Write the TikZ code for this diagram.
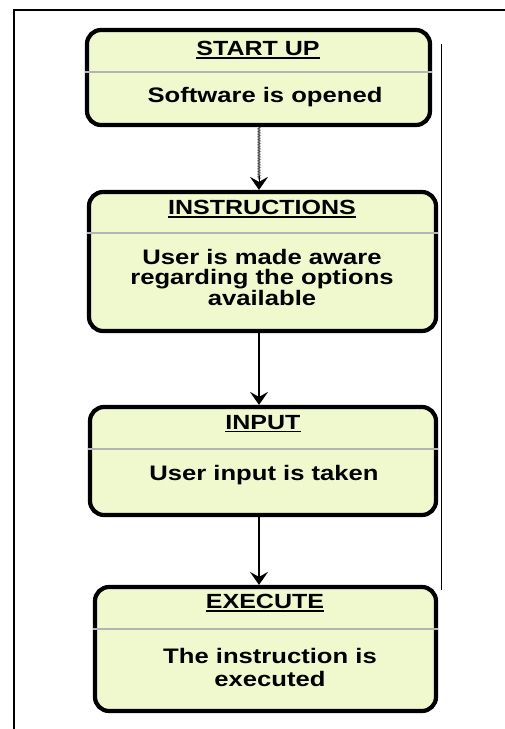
\documentclass[tikz,border=0pt]{standalone}
\usepackage{fontspec}
\setmainfont{Liberation Sans}
\newfontfamily\boxfont[FakeStretch=1.22]{Liberation Sans}
\usetikzlibrary{arrows.meta,decorations.pathmorphing}

\definecolor{boxfill}{HTML}{F0F8CE}
\definecolor{splitgray}{HTML}{B4B4B4}

% title with a heavier underline than \underline gives
\newcommand\titleline[1]{\setbox0\hbox{#1}\rlap{\rule[-2.8pt]{\wd0}{1.5pt}}\box0}

\tikzset{
  stagebox/.style={draw=black, line width=4.2pt, rounded corners=14pt,
    fill=boxfill, inner sep=0pt, outer sep=2.1pt},
  stagetitle/.style={font=\boxfont\bfseries\fontsize{20.5}{21}\selectfont, inner sep=0pt},
  stagebody/.style={font=\boxfont\bfseries\fontsize{21}{20.5}\selectfont,
    align=center, inner sep=0pt},
  splitline/.style={draw=splitgray, line width=1.5pt},
  flow/.style={draw=black, line width=1.2pt,
    -{Stealth[length=13pt,width=18pt,inset=5pt]}},
  roughflow/.style={draw=black!75, line width=0.6pt,
    decorate, decoration={zigzag, amplitude=1pt, segment length=1.6pt}},
  frameline/.style={draw=black, line width=2pt},
}

\begin{document}
\begin{tikzpicture}[x=1pt, y=-1pt]
\useasboundingbox (0,0) rectangle (505,729);

% page frame
\draw[frameline] (14,729) -- (14,10) -- (505,10);
\draw[draw=black, line width=1pt] (441,44) -- (441,590);

% stage boxes
\node[stagebox, minimum width=343pt, minimum height=95pt] (b1) at (258.5,77.5) {};
\node[stagebox, minimum width=347pt, minimum height=139pt] (b2) at (262.5,261.5) {};
\node[stagebox, minimum width=346pt, minimum height=108pt] (b3) at (263,461) {};
\node[stagebox, minimum width=341pt, minimum height=124pt] (b4) at (265.5,649) {};

% title / body dividers
\coordinate (d1) at (0,72);
\coordinate (d2) at (0,233);
\coordinate (d3) at (0,449);
\coordinate (d4) at (0,629);
\draw[splitline] (b1.west |- d1) -- (b1.east |- d1);
\draw[splitline] (b2.west |- d2) -- (b2.east |- d2);
\draw[splitline] (b3.west |- d3) -- (b3.east |- d3);
\draw[splitline] (b4.west |- d4) -- (b4.east |- d4);

% texts
\node[stagetitle] (t1) at (258,50) {\titleline{START UP}};
\node[stagebody] (s1) at (265,97) {Software is opened};

\node[stagetitle] (t2) at (262,209) {\titleline{INSTRUCTIONS}};
\node[stagebody] (s2) at (262,277) {User is made aware\\regarding the options\\available};

\node[stagetitle] (t3) at (263,424) {\titleline{INPUT}};
\node[stagebody] (s3) at (264,475) {User input is taken};

\node[stagetitle] (t4) at (265,603) {\titleline{EXECUTE}};
\node[stagebody, font=\boxfont\bfseries\fontsize{21}{23}\selectfont] (s4) at (270,667)
  {The instruction is\\executed};

% connectors (yshift works in page points, so positive is upwards)
\coordinate (ax) at (259,0);
\draw[roughflow] (b1.south -| ax) -- ([yshift=10pt]b2.north -| ax);
\draw[flow, line width=0.6pt] ([yshift=13.5pt]b2.north -| ax) -- (b2.north -| ax);
\draw[flow] (b2.south -| ax) -- (b3.north -| ax);
\draw[flow] (b3.south -| ax) -- (b4.north -| ax);
\end{tikzpicture}
\end{document}
